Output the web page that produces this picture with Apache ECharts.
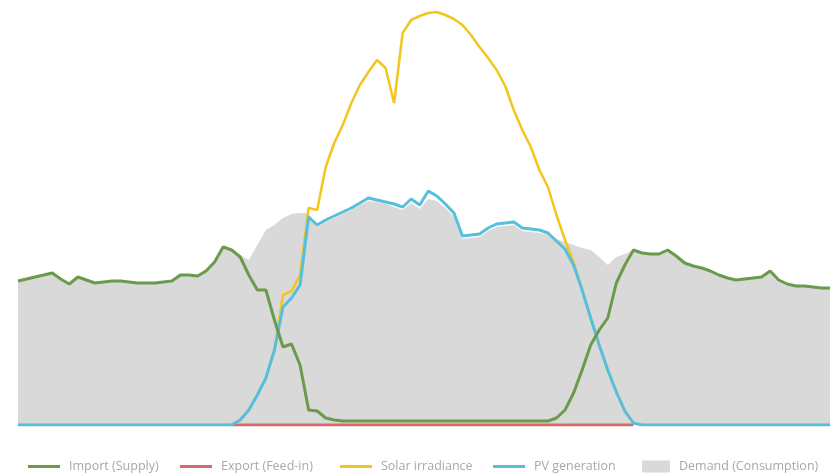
<!DOCTYPE html>
<html>
<head>
<meta charset="utf-8">
<script src="https://cdn.jsdelivr.net/npm/echarts@6/dist/echarts.min.js"></script>
<style>
html,body{margin:0;padding:0;background:#fff;}
#chart{width:835px;height:473px;}
</style>
</head>
<body>
<div id="chart"></div>
<script>
// 15-minute intervals over a day (96 slots)
var times = [];
for (var h = 0; h < 24; h++) {
  for (var m = 0; m < 60; m += 15) {
    times.push((h < 10 ? '0' : '') + h + ':' + (m === 0 ? '00' : m));
  }
}

var seriesNames = ['Import (Supply)', 'Export (Feed-in)', 'Solar irradiance', 'PV generation', 'Demand (Consumption)'];

var importSupply = [
  144,146,148,150,152,146,141,148,145,142,143,144,144,143,142,142,
  142,143,144,150,150,149,154,163,178,175,168,150,135,135,105,78,
  81,60,15,14,7,5,4,4,4,4,4,4,4,4,4,4,
  4,4,4,4,4,4,4,4,4,4,4,4,4,4,4,7,
  15,32,55,80,95,107,142,160,175,172,171,171,175,169,162,159,
  157,154,150,147,145,146,147,148,154,145,141,139,139,138,137,137
];

var exportFeedIn = [
  null,null,null,null,null,null,null,null,null,null,null,null,null,null,null,null,
  null,null,null,null,null,null,null,null,null,0,0,0,0,0,0,0,
  0,0,0,0,0,0,0,0,0,0,0,0,0,0,0,0,
  0,0,0,0,0,0,0,0,0,0,0,0,0,0,0,0,
  0,0,0,0,0,0,0,0,0,null,null,null,null,null,null,null,
  null,null,null,null,null,null,null,null,null,null,null,null,null,null,null,null
];

var solarIrradiance = [
  0,0,0,0,0,0,0,0,0,0,0,0,0,0,0,0,
  0,0,0,0,0,0,0,0,0,0,5,15,30,47,75,130,
  134,150,217,215,258,282,300,322,340,353,365,357,322,392,405,409,
  412,413,410,406,400,390,378,367,355,339,315,295,278,255,238,210,
  185,163,135,107,80,55,33,14,2,0,0,0,0,0,0,0,
  0,0,0,0,0,0,0,0,0,0,0,0,0,0,0,0
];

var pvGeneration = [
  0,0,0,0,0,0,0,0,0,0,0,0,0,0,0,0,
  0,0,0,0,0,0,0,0,0,0,5,15,30,47,75,118,
  127,140,208,200,205,209,213,217,222,227,225,223,221,218,226,220,
  234,229,221,212,189,190,191,197,201,202,203,197,196,195,192,184,
  176,160,135,107,80,55,33,14,2,0,0,0,0,0,0,0,
  0,0,0,0,0,0,0,0,0,0,0,0,0,0,0,0
];

var demand = [
  144,146,148,150,152,146,141,148,145,142,143,144,144,143,142,142,
  142,143,144,150,150,149,154,163,178,175,170,165,180,195,200,207,
  211,212,212,198,203,207,211,215,220,224,223,221,218,215,222,216,
  226,224,217,208,186,187,188,194,198,199,200,194,193,192,190,186,
  183,180,177,175,168,160,168,171,175,172,171,171,175,169,162,159,
  157,154,150,147,145,146,147,148,154,145,141,139,139,138,137,137
];

var colors = {
  imp: '#6b9a4b',
  exp: '#d96a6a',
  sol: '#f2c61f',
  pv: '#56bfdc',
  dem: '#d9d9d9'
};

var legendText = { color: '#a8a8a8', fontSize: 12.5, fontFamily: 'Open Sans', padding: [0, 0, 0, 4] };
function mkLegend(name, left, isBox) {
  return {
    data: [{ name: name, icon: 'rect' }],
    left: left,
    top: 455,
    itemWidth: isBox ? 28 : 32,
    itemHeight: isBox ? 12 : 3,
    textStyle: legendText
  };
}

var chart = echarts.init(document.getElementById('chart'));
chart.setOption({
  animation: false,
  backgroundColor: '#ffffff',
  grid: { left: 18, right: 5, top: 0, bottom: 48 },
  legend: [
    mkLegend(seriesNames[0], 23),
    mkLegend(seriesNames[1], 175),
    mkLegend(seriesNames[2], 335),
    mkLegend(seriesNames[3], 488),
    mkLegend(seriesNames[4], 637, true)
  ],
  xAxis: {
    type: 'category',
    data: times,
    boundaryGap: false,
    show: false
  },
  yAxis: {
    type: 'value',
    min: 0,
    max: 425,
    show: false
  },
  series: [
    {
      name: seriesNames[4],
      type: 'line',
      data: demand,
      symbol: 'none',
      lineStyle: { width: 0, color: colors.dem },
      itemStyle: { color: colors.dem },
      areaStyle: { color: colors.dem, opacity: 1 },
      z: 1
    },
    {
      name: seriesNames[2],
      type: 'line',
      data: solarIrradiance,
      symbol: 'none',
      lineStyle: { width: 2.5, color: colors.sol },
      itemStyle: { color: colors.sol },
      z: 2
    },
    {
      name: seriesNames[1],
      type: 'line',
      data: exportFeedIn,
      symbol: 'none',
      lineStyle: { width: 3, color: colors.exp },
      itemStyle: { color: colors.exp },
      z: 3
    },
    {
      name: seriesNames[3],
      type: 'line',
      data: pvGeneration,
      symbol: 'none',
      lineStyle: { width: 3, color: colors.pv },
      itemStyle: { color: colors.pv },
      z: 4
    },
    {
      name: seriesNames[0],
      type: 'line',
      data: importSupply,
      symbol: 'none',
      lineStyle: { width: 3, color: colors.imp },
      itemStyle: { color: colors.imp },
      z: 5
    }
  ]
});
</script>
</body>
</html>
